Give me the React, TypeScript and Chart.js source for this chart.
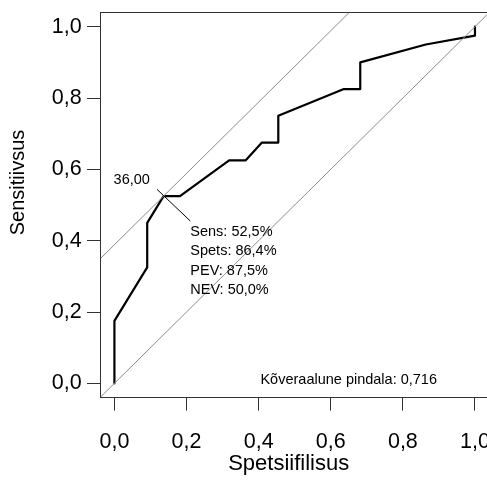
import React, { useEffect, useRef } from "react";
import { Chart, registerables } from "chart.js";

Chart.register(...registerables);

// ---- data ----
const axisMin = -0.04;
const axisMax = 1.04;
const xTickValues = [0, 0.2, 0.4, 0.6, 0.8, 1.0];
const yTickValues = [0, 0.2, 0.4, 0.6, 0.8, 1.0];
const xAxisTitle = "Spetsiifilisus";
const yAxisTitle = "Sensitiivsus";

// ROC curve points
const rocX = [0, 0, 0.0909, 0.0909, 0.1364, 0.1818, 0.3182, 0.3636, 0.4091, 0.4545, 0.4545, 0.6364, 0.6818, 0.6818, 0.8636, 1, 1];
const rocY = [0, 0.175, 0.325, 0.45, 0.525, 0.525, 0.625, 0.625, 0.675, 0.675, 0.75, 0.825, 0.825, 0.9, 0.95, 0.975, 1];

// chance diagonal
const chanceX = [-0.1, 1.1];
const chanceY = [-0.1, 1.1];

// tangent line through the optimal cut-off
const tangentX = [-0.1, 0.75];
const tangentY = [0.2886, 1.1386];

// cut-off marker / pointer line
const pointerX = [0.118, 0.2105];
const pointerY = [0.544, 0.455];

const cutoffX = 0.1364;
const cutoffY = 0.525;
const cutoffLabel = "36,00";
const infoLines = ["Sens: 52,5%", "Spets: 86,4%", "PEV: 87,5%", "NEV: 50,0%"];
const aucText = "Kõveraalune pindala: 0,716";
const aucX = 0.405;
const aucY = 0.0;

const FONT = "'Liberation Sans', Arial, Helvetica, sans-serif";

const toPts = (xs: number[], ys: number[]) => xs.map((x, i) => ({ x, y: ys[i] }));
const fmt = (v: number) => Number(v).toFixed(1).replace(".", ",");

const boxPlugin = {
  id: "box",
  afterDraw(chart: any) {
    const { ctx, chartArea } = chart;
    ctx.save();
    ctx.strokeStyle = "#333";
    ctx.lineWidth = 1;
    const l = Math.round(chartArea.left) + 0.5;
    const t = Math.round(chartArea.top) + 0.5;
    const r = Math.round(chartArea.right) - 0.5;
    const b = Math.round(chartArea.bottom) - 0.5;
    ctx.strokeRect(l, t, r - l, b - t);
    ctx.restore();
  },
};

const textPlugin = {
  id: "texts",
  afterDraw(chart: any) {
    const { ctx } = chart;
    const xs = chart.scales.x;
    const ys = chart.scales.y;
    ctx.save();
    ctx.fillStyle = "#000";
    // cutoff label
    ctx.font = `14.5px ${FONT}`;
    ctx.textAlign = "left";
    ctx.textBaseline = "alphabetic";
    const cx = xs.getPixelForValue(cutoffX);
    const cy = ys.getPixelForValue(cutoffY);
    ctx.fillText(cutoffLabel, cx - 50, cy - 12);
    // info lines
    const px = xs.getPixelForValue(pointerX[1]);
    const py = ys.getPixelForValue(pointerY[1]);
    infoLines.forEach((s, i) => ctx.fillText(s, px, py + 14.7 + i * 19.4));
    // AUC
    ctx.fillText(aucText, xs.getPixelForValue(aucX), ys.getPixelForValue(aucY) + 0.7);
    // axis titles
    ctx.font = `22px ${FONT}`;
    ctx.textAlign = "center";
    ctx.fillText(xAxisTitle, 288.7, 470);
    ctx.font = `20px ${FONT}`;
    ctx.translate(23.5, 182.5);
    ctx.rotate(-Math.PI / 2);
    ctx.fillText(yAxisTitle, 0, 0);
    ctx.restore();
  },
};

const zeroPad = (s: any) => {
  s.paddingLeft = 0;
  s.paddingRight = 0;
  s.paddingTop = 0;
  s.paddingBottom = 0;
};

export default function App() {
  const ref = useRef<HTMLCanvasElement>(null);
  useEffect(() => {
    const canvas = ref.current!;
    const chart = new Chart(canvas, {
      type: "line",
      data: {
        datasets: [
          {
            data: toPts(chanceX, chanceY),
            borderColor: "#8c8c8c",
            borderWidth: 1,
            pointRadius: 0,
            fill: false,
          },
          {
            data: toPts(tangentX, tangentY),
            borderColor: "#8c8c8c",
            borderWidth: 1,
            pointRadius: 0,
            fill: false,
          },
          {
            data: toPts(pointerX, pointerY),
            borderColor: "#000",
            borderWidth: 1,
            pointRadius: 0,
            fill: false,
          },
          {
            data: toPts(rocX, rocY),
            borderColor: "#000",
            borderWidth: 2.2,
            borderJoinStyle: "round",
            borderCapStyle: "round",
            pointRadius: 0,
            fill: false,
            tension: 0,
          },
        ] as any,
      },
      options: {
        responsive: false,
        animation: false,
        devicePixelRatio: 1,
        layout: { padding: { top: 12.4, right: 5.6, left: 0, bottom: 0 } },
        plugins: { legend: { display: false }, tooltip: { enabled: false } },
        scales: {
          x: {
            type: "linear",
            min: axisMin,
            max: axisMax,
            afterFit: (s: any) => {
              s.height = 85.4;
              zeroPad(s);
            },
            afterBuildTicks: (s: any) => {
              s.ticks = xTickValues.map((v) => ({ value: v }));
            },
            grid: { display: true, drawOnChartArea: false, drawTicks: true, tickLength: 13, color: "#333", lineWidth: 1 },
            border: { display: false },
            ticks: {
              autoSkip: false,
              maxRotation: 0,
              padding: 18.8,
              color: "#000",
              font: { size: 21.5, family: FONT },
              callback: (v: any) => fmt(v),
            },
          },
          y: {
            type: "linear",
            min: axisMin,
            max: axisMax,
            afterFit: (s: any) => {
              s.width = 100;
              zeroPad(s);
            },
            afterBuildTicks: (s: any) => {
              s.ticks = yTickValues.map((v) => ({ value: v }));
            },
            grid: { display: true, drawOnChartArea: false, drawTicks: true, tickLength: 13, color: "#333", lineWidth: 1 },
            border: { display: false },
            ticks: {
              autoSkip: false,
              padding: 5.3,
              color: "#000",
              font: { size: 21.5, family: FONT },
              callback: (v: any) => fmt(v),
            },
          },
        },
      } as any,
      plugins: [boxPlugin, textPlugin],
    });
    return () => chart.destroy();
  }, []);
  return (
    <div style={{ position: "fixed", left: 0, top: 0, width: 487, height: 483, overflow: "hidden", background: "#fff" }}>
      <canvas ref={ref} width={495} height={483} style={{ display: "block" }} />
    </div>
  );
}
